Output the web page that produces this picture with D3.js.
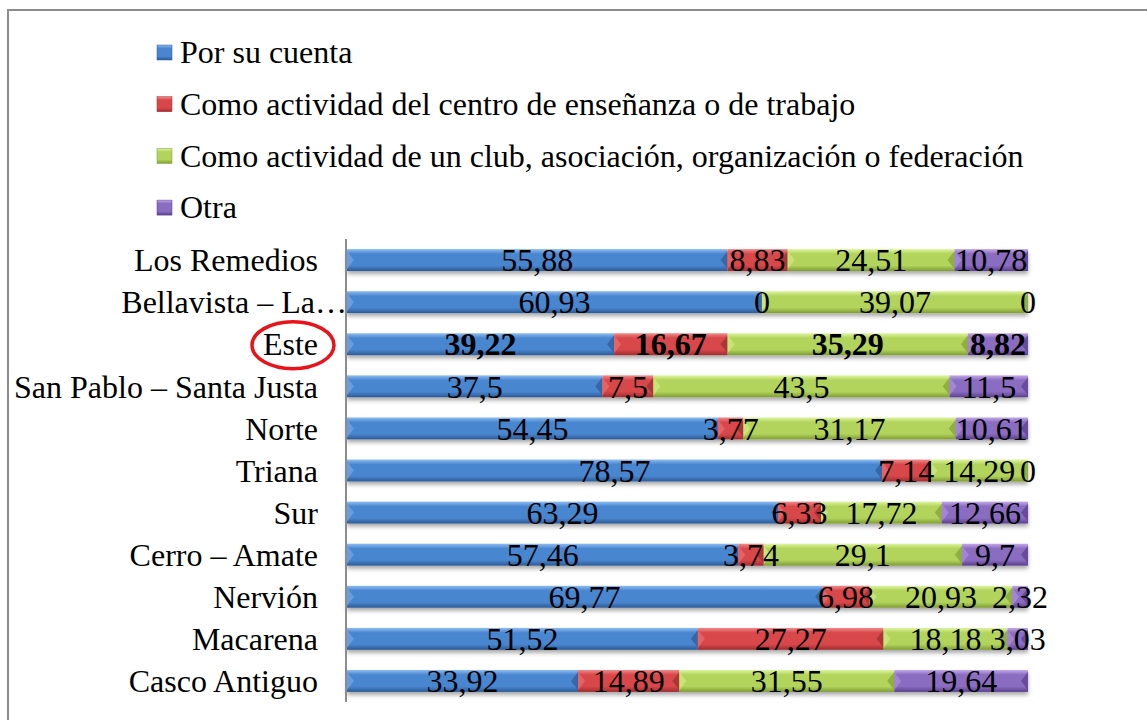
<!DOCTYPE html>
<html><head><meta charset="utf-8">
<script src="https://cdn.jsdelivr.net/npm/d3@7"></script>
<style>body{margin:0;background:#fff}svg{display:block}</style>
</head><body><svg id="c" width="1147" height="720" font-family="'Liberation Serif', 'Times New Roman', serif"></svg>
<script>
const categories = ["Los Remedios","Bellavista – La…","Este","San Pablo – Santa Justa","Norte","Triana","Sur","Cerro – Amate","Nervión","Macarena","Casco Antiguo"];
const seriesNames = ["Por su cuenta","Como actividad del centro de enseñanza o de trabajo","Como actividad de un club, asociación, organización o federación","Otra"];
const porSuCuenta = [55.88,60.93,39.22,37.5,54.45,78.57,63.29,57.46,69.77,51.52,33.92];
const centroEnsenanza = [8.83,0,16.67,7.5,3.77,7.14,6.33,3.74,6.98,27.27,14.89];
const club = [24.51,39.07,35.29,43.5,31.17,14.29,17.72,29.1,20.93,18.18,31.55];
const otra = [10.78,0,8.82,11.5,10.61,0,12.66,9.7,2.32,3.03,19.64];
const highlighted = "Este";

const FONT = "Liberation Serif";
const FS = 32;
const series = [porSuCuenta, centroEnsenanza, club, otra];
const palette = [
  {top:"#8dbcf2", mid:"#4a86d0", bot:"#2c5a96", l:"#6ea3e6", r:"#2f5f9c"},
  {top:"#f08a8a", mid:"#d8474a", bot:"#9e2d2f", l:"#ea6a6b", r:"#a33133"},
  {top:"#def59e", mid:"#b2d45c", bot:"#7f9c34", l:"#cce77f", r:"#86a53a"},
  {top:"#c3a8ea", mid:"#8a6cc0", bot:"#5a3f8c", l:"#a98bdb", r:"#5f4493"}
];

const svg = d3.select("#c");
const defs = svg.append("defs");
palette.forEach((p,i)=>{
  const g = defs.append("linearGradient").attr("id","g"+i).attr("x1",0).attr("y1",0).attr("x2",0).attr("y2",1);
  g.append("stop").attr("offset","0%").attr("stop-color",p.top);
  g.append("stop").attr("offset","22%").attr("stop-color",p.mid);
  g.append("stop").attr("offset","75%").attr("stop-color",p.mid);
  g.append("stop").attr("offset","100%").attr("stop-color",p.bot);
});
const f = defs.append("filter").attr("id","sh").attr("x","-5%").attr("y","-50%").attr("width","110%").attr("height","220%");
f.append("feDropShadow").attr("dx",0).attr("dy",3).attr("stdDeviation",2).attr("flood-color","#000").attr("flood-opacity",0.35);

// frame
svg.append("path").attr("d","M8,720 V10 H1147").attr("fill","none").attr("stroke","#8c8c8c").attr("stroke-width",2);

const x = d3.scaleLinear().domain([0,100]).range([347,1028]);
const y = d3.scaleBand().domain(categories).range([239,702]).paddingInner(0.48).paddingOuter(0.24);

// bars
const rows = categories.map((c,i)=>{
  let acc = 0;
  return series.map((s,k)=>{ const v=s[i]; const seg={cat:c,k,v,x0:acc,x1:acc+v}; acc+=v; return seg; });
});
const barG = svg.append("g");
rows.forEach(row=>{
  const rg = barG.append("g").attr("filter","url(#sh)");
  row.filter(d=>d.v>0).forEach(d=>{
    const x0=x(d.x0), x1=x(d.x1), y0=y(d.cat), h=y.bandwidth(), y1=y0+h;
    const p = palette[d.k];
    rg.append("rect").attr("x",x0).attr("y",y0).attr("width",x1-x0).attr("height",h).attr("fill",`url(#g${d.k})`);
    const b = Math.min(7,(x1-x0)/2);
    rg.append("path").attr("d",`M${x0},${y0+2}L${x0+b},${y0+h/2}L${x0},${y1-2}Z`).attr("fill",p.l).attr("opacity",0.8);
    rg.append("path").attr("d",`M${x1},${y0+2}L${x1-b},${y0+h/2}L${x1},${y1-2}Z`).attr("fill",p.r).attr("opacity",0.8);
  });
});

// axis line
svg.append("line").attr("x1",346).attr("x2",346).attr("y1",239).attr("y2",702).attr("stroke","#8c8c8c").attr("stroke-width",2);

// category labels
svg.append("g").selectAll("text").data(categories).join("text")
  .attr("font-family",FONT).attr("font-weight","normal")
  .attr("x",d=>d.endsWith("…")?347:318).attr("y",d=>y(d)+y.bandwidth()/2).attr("dy","0.35em")
  .attr("text-anchor","end").attr("font-size",FS).attr("fill","#000").text(d=>d);

// data labels
const fmt = v => String(v).replace(".",",");
svg.append("g").selectAll("text").data(rows.flat()).join("text")
  .attr("font-family",FONT)
  .attr("x",d=>x((d.x0+d.x1)/2)).attr("y",d=>y(d.cat)+y.bandwidth()/2).attr("dy","0.35em")
  .attr("text-anchor","middle").attr("font-size",FS).attr("fill","#000")
  .attr("font-weight",d=>d.cat===highlighted?"bold":"normal").text(d=>fmt(d.v));

// legend
const lg = svg.append("g");
seriesNames.forEach((n,i)=>{
  const cy = 52 + i*51.7;
  lg.append("rect").attr("x",157).attr("y",cy-7).attr("width",15).attr("height",15).attr("fill",`url(#g${i})`).attr("stroke",palette[i].bot).attr("stroke-width",0.5);
  lg.append("text").attr("font-family",FONT).attr("font-weight","normal").attr("x",180).attr("y",cy).attr("dy","0.35em").attr("font-size",FS).attr("fill","#000").text(n);
});

// highlight ellipse
svg.append("ellipse").attr("cx",293).attr("cy",y(highlighted)+y.bandwidth()/2+1).attr("rx",41).attr("ry",23.5)
  .attr("fill","none").attr("stroke","#e8141b").attr("stroke-width",3.5);
</script></body></html>
